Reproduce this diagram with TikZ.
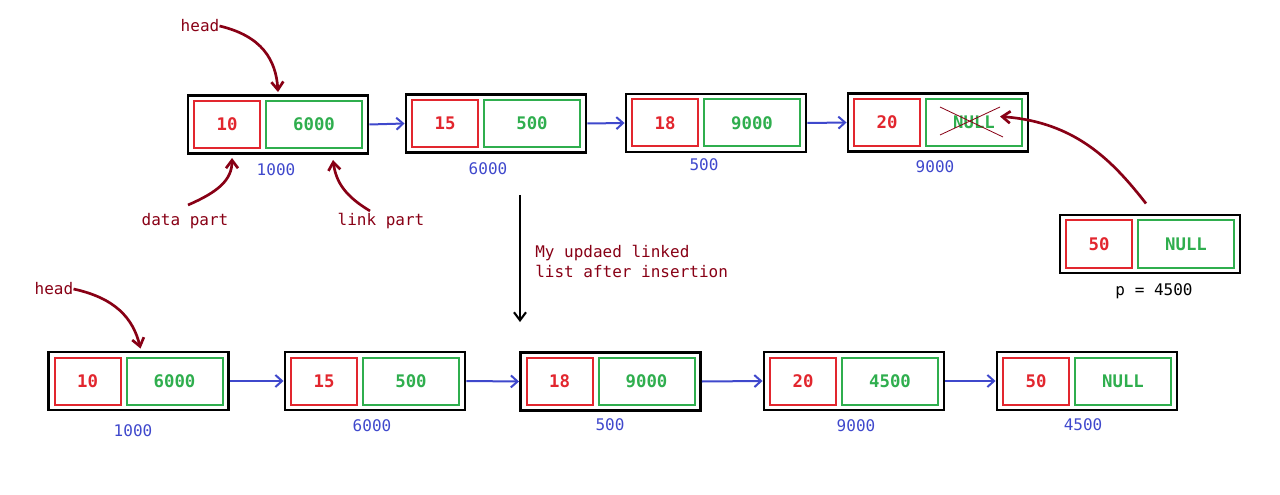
\documentclass[tikz,border=0pt]{standalone}
\usepackage{fontspec}
\newfontfamily\mono{DejaVu Sans Mono}
\usetikzlibrary{arrows.meta,calc}
\definecolor{cred}{HTML}{E2262E}
\definecolor{cgreen}{HTML}{2FAE4E}
\definecolor{cblue}{HTML}{3F48CC}
\definecolor{cdark}{HTML}{880015}
\newcommand\llnode[4]{%
  \node[outer] (#1) at (#2) {};
  \node[dbox] (#1d) at ($(#1)+(-51,0)$) {#3};
  \node[lbox] (#1l) at ($(#1)+(36,0)$) {#4};}
\begin{document}
\begin{tikzpicture}[x=0.75pt,y=-0.75pt,
  outer/.style={draw=black, line width=2.2pt, minimum width=135pt, minimum height=43.5pt, inner sep=0pt, fill=white},
  boxfont/.style={font=\mono\bfseries\fontsize{13}{15}\selectfont},
  dbox/.style={boxfont, draw=cred, line width=1.5pt, minimum width=49.5pt, minimum height=35.25pt, inner sep=0pt, text=cred},
  lbox/.style={boxfont, draw=cgreen, line width=1.5pt, minimum width=72pt, minimum height=35.25pt, inner sep=0pt, text=cgreen},
  addr/.style={text=cblue, font=\mono\fontsize{12}{14}\selectfont, inner sep=0pt},
  note/.style={text=cdark, font=\mono\fontsize{12}{15}\selectfont, inner sep=0pt},
  link/.style={draw=cblue, line width=1.5pt, -{Straight Barb[length=5pt,width=9pt,line width=1.5pt]}},
  pointer/.style={draw=cdark, line width=2pt, -{Straight Barb[length=6pt,width=9pt,line width=2pt]}}]
\useasboundingbox (0,0) rectangle (1280,495);
% top row
\llnode{N1}{278,124.5}{10}{6000}
\llnode{N2}{496,123.5}{15}{500}
\llnode{N3}{716,123}{18}{9000}
\llnode{N4}{938,122.5}{20}{NULL}
\llnode{P}{1150,244}{50}{NULL}
\node[addr] (a1) at (276,170) {1000};
\node[addr] (a2) at (488,169) {6000};
\node[addr] (a3) at (704,165) {500};
\node[addr] (a4) at (935,167) {9000};
\node[font=\mono\fontsize{12}{14}\selectfont, inner sep=0pt] (pl) at (1154,291) {p = 4500};
\draw[link] (N1.east) -- (N2.west);
\draw[link] (N2.east) -- (N3.west);
\draw[link] (N3.east) -- (N4.west);
% crossed NULL
\draw[cdark, line width=0.6pt] ($(N4l)+(-34,-15.5)$) coordinate (x1) -- ($(N4l)+(29,14.5)$) coordinate (x2);
\draw[cdark, line width=0.6pt] ($(N4l)+(-34,12.5)$) coordinate (x3) -- ($(N4l)+(26,-15.5)$) coordinate (x4);
% annotations top
\node[note] (headA) at (200,26) {head};
\draw[pointer] (headA.east) .. controls (262,36) and (276,60) .. ($(N1.north)+(0,-2)$);
\node[note] (dp) at (185,221) {data part};
\draw[pointer] ($(dp.north)+(3,-8)$) .. controls (218,192) and (232,180) .. ($(N1d.south)+(5,9)$);
\node[note] (lp) at (381,221) {link part};
\draw[pointer] ($(lp.north)+(-11,-2)$) .. controls (345,196) and (336,182) .. ($(N1l.south)+(19,11)$);
\draw[pointer] ($(P.north)+(-4,-10)$) .. controls (1112,160) and (1075,122) .. ($(N4l)+(26,-6)$);
% middle
\coordinate (vt) at (520,195);
\node[inner sep=0pt] (vb) at (520,323) {};
\draw[line width=1.6pt, -{Straight Barb[length=6pt,width=9pt,line width=1.6pt]}] (vt) -- (vb);
\node[note, anchor=west, align=left] (msg) at (535,261) {My updaed linked\\list after insertion};
% bottom row
\llnode{B1}{138.5,381}{10}{6000}
\llnode{B2}{375,381}{15}{500}
\llnode{B3}{610.5,381.5}{18}{9000}
\llnode{B4}{854,381}{20}{4500}
\llnode{B5}{1087,381}{50}{NULL}
\node[addr] (b1) at (133,431) {1000};
\node[addr] (b2) at (372,426) {6000};
\node[addr] (b3) at (610,425) {500};
\node[addr] (b4) at (856,426) {9000};
\node[addr] (b5) at (1083,425) {4500};
\draw[link] (B1.east) -- (B2.west);
\draw[link] (B2.east) -- (B3.west);
\draw[link] (B3.east) -- (B4.west);
\draw[link] (B4.east) -- (B5.west);
\node[note] (headB) at (54,289) {head};
\draw[pointer] (headB.east) .. controls (115,298) and (133,318) .. ($(B1.north)+(2,-2)$);
\end{tikzpicture}
\end{document}
